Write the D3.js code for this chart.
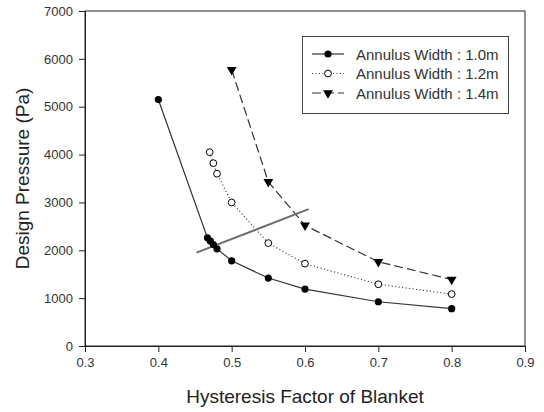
<!DOCTYPE html>
<html>
<head>
<meta charset="utf-8">
<script src="https://cdn.jsdelivr.net/npm/d3@7"></script>
<style>
  html, body { margin: 0; padding: 0; background: #fff; }
  svg { display: block; font-family: "Liberation Sans", Arial, sans-serif; }
</style>
</head>
<body>
<svg id="chart" width="544" height="412"></svg>
<script>
// Design pressure versus hysteresis factor, one series per annulus width
const xTicks = [0.3, 0.4, 0.5, 0.6, 0.7, 0.8, 0.9];
const yTicks = [0, 1000, 2000, 3000, 4000, 5000, 6000, 7000];

const w10x = [0.4, 0.467, 0.471, 0.475, 0.48, 0.5, 0.55, 0.6, 0.7, 0.8];
const w10y = [5150, 2260, 2190, 2120, 2030, 1780, 1420, 1190, 925, 780];

const w12x = [0.47, 0.475, 0.48, 0.5, 0.55, 0.6, 0.7, 0.8];
const w12y = [4050, 3820, 3600, 3000, 2150, 1720, 1290, 1085];

const w14x = [0.5, 0.55, 0.6, 0.7, 0.8];
const w14y = [5770, 3430, 2520, 1760, 1390];

// straight reference line crossing the curves
const refX = [0.452, 0.605];
const refY = [1950, 2860];

const seriesNames = ["Annulus Width : 1.0m", "Annulus Width : 1.2m", "Annulus Width : 1.4m"];

const svg = d3.select("#chart");
const plotL = 85, plotR = 525, plotT = 11, plotB = 346;

const x = d3.scaleLinear().domain([0.3, 0.9]).range([plotL, plotR]);
const y = d3.scaleLinear().domain([0, 7000]).range([plotB, plotT]);

const ink = "#222";

// frame
svg.append("rect")
  .attr("x", plotL).attr("y", plotT)
  .attr("width", plotR - plotL).attr("height", plotB - plotT)
  .attr("fill", "none").attr("stroke", ink).attr("stroke-width", 1);

const xAxis = svg.append("g")
  .attr("transform", `translate(0,${plotB})`)
  .call(d3.axisBottom(x).tickValues(xTicks).tickFormat(d3.format(".1f")).tickSize(6).tickPadding(6));
const yAxis = svg.append("g")
  .attr("transform", `translate(${plotL},0)`)
  .call(d3.axisLeft(y).tickValues(yTicks).tickFormat(d3.format("d")).tickSize(6).tickPadding(6));

[xAxis, yAxis].forEach(g => {
  g.select(".domain").attr("stroke", ink);
  g.selectAll(".tick line").attr("stroke", ink);
  g.selectAll(".tick text").attr("fill", "#333").style("font-size", "13px")
    .style("font-family", "'Liberation Sans', Arial, sans-serif");
});

// axis titles
svg.append("text")
  .attr("x", (plotL + plotR) / 2).attr("y", 403)
  .attr("text-anchor", "middle")
  .attr("fill", ink).style("font-size", "19px")
  .text("Hysteresis Factor of Blanket");
svg.append("text")
  .attr("transform", `translate(29,${(plotT + plotB) / 2}) rotate(-90)`)
  .attr("text-anchor", "middle")
  .attr("fill", ink).style("font-size", "19px")
  .text("Design Pressure (Pa)");

const line = d3.line().x(d => x(d[0])).y(d => y(d[1]));
const zip = (a, b) => a.map((v, i) => [v, b[i]]);

const styles = [
  { dash: null, marker: "dot" },
  { dash: "1,2.5", marker: "ring" },
  { dash: "9,4", marker: "tri" }
];
const data = [zip(w10x, w10y), zip(w12x, w12y), zip(w14x, w14y)];

const tri = d3.symbol().type(d3.symbolTriangle).size(42);

function drawMarker(g, kind, cx, cy) {
  if (kind === "dot") {
    g.append("circle").attr("cx", cx).attr("cy", cy).attr("r", 3.6).attr("fill", "#000");
  } else if (kind === "ring") {
    g.append("circle").attr("cx", cx).attr("cy", cy).attr("r", 3.4)
      .attr("fill", "#fff").attr("stroke", "#000").attr("stroke-width", 1);
  } else {
    g.append("path").attr("d", tri())
      .attr("transform", `translate(${cx},${cy}) rotate(180)`).attr("fill", "#000");
  }
}

data.forEach((pts, i) => {
  svg.append("path")
    .attr("d", line(pts))
    .attr("fill", "none").attr("stroke", "#333").attr("stroke-width", 1.2)
    .attr("stroke-dasharray", styles[i].dash);
});

// reference line
svg.append("path")
  .attr("d", line(zip(refX, refY)))
  .attr("fill", "none").attr("stroke", "#6e6e6e").attr("stroke-width", 2);

data.forEach((pts, i) => {
  const g = svg.append("g");
  pts.forEach(p => drawMarker(g, styles[i].marker, x(p[0]), y(p[1])));
});

// legend
const legend = svg.append("g");
legend.append("rect")
  .attr("x", 302.5).attr("y", 36.5).attr("width", 206).attr("height", 77)
  .attr("fill", "#fff").attr("stroke", "#444").attr("stroke-width", 1);
seriesNames.forEach((name, i) => {
  const cy = 54 + i * 19.5;
  legend.append("line")
    .attr("x1", 312).attr("x2", 344).attr("y1", cy).attr("y2", cy)
    .attr("stroke", "#333").attr("stroke-width", 1.2)
    .attr("stroke-dasharray", styles[i].dash);
  drawMarker(legend, styles[i].marker, 328, cy);
  legend.append("text")
    .attr("x", 356).attr("y", cy + 5.5)
    .attr("fill", "#333").style("font-size", "15px")
    .text(name);
});
</script>
</body>
</html>
